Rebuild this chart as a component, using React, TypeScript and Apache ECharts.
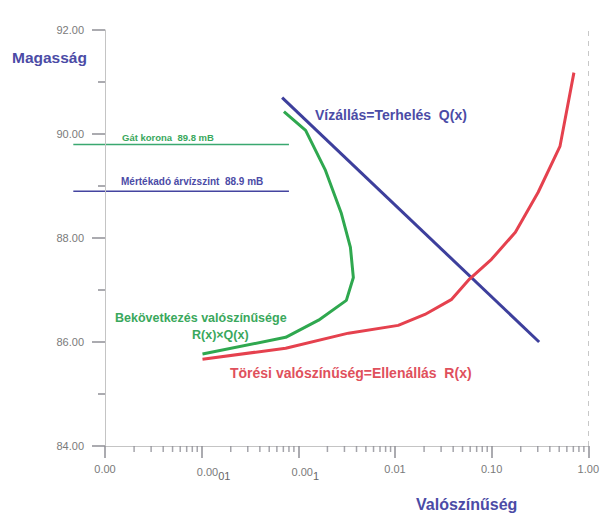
import React, { useEffect, useRef } from "react";
import * as echarts from "echarts";

// ---- data ----
const xMin = 0.00001;
const xMax = 1;
const yMin = 84;
const yMax = 92;
const yInterval = 2;
const xTickLabels = ["0.00", "{a|0.00}{s|01}", "{b|0.00}{s|1}", "0.01", "0.10", "1.00"];
const xDecades = [0.00001, 0.0001, 0.001, 0.01, 0.1];
const xMinorMultipliers = [2, 3, 4, 5, 6, 7, 8, 9];

// Load: water level Q(x)
const loadX = [0.00068, 0.31];
const loadY = [90.7, 86.0];

// Resistance: failure probability R(x)
const resistX = [0.000102, 0.00074, 0.0033, 0.0108, 0.0204, 0.0386, 0.059, 0.0996, 0.176, 0.303, 0.509, 0.71];
const resistY = [85.67, 85.88, 86.17, 86.32, 86.53, 86.82, 87.21, 87.59, 88.11, 88.88, 89.76, 91.18];

// Occurrence probability R(x)×Q(x)
const occX = [0.00071, 0.00119, 0.00191, 0.00279, 0.00346, 0.00371, 0.00314, 0.00162, 0.00074, 0.000102];
const occY = [90.43, 90.07, 89.3, 88.47, 87.82, 87.24, 86.8, 86.42, 86.09, 85.77];

// Reference levels (left end lies beyond the axis start)
const crestLevel = 89.8;
const designLevel = 88.9;
const refLineX = [0.0000047, 0.0008];

const BLUE = "#3d3f9c";
const GREEN = "#2fa84f";
const RED = "#e5414e";
const BLUE_TXT = "#4b4ba6";
const GREEN_TXT = "#3aa85c";
const RED_TXT = "#e0505c";
const FONT = "Liberation Sans, Arial, sans-serif";
const TICK = "#8f8f96";

const zip = (xs: number[], ys: number[]) => xs.map((x, i) => [x, ys[i]]);

export default function App() {
  const ref = useRef<HTMLDivElement>(null);
  useEffect(() => {
    document.body.style.margin = "0";
    const chart = echarts.init(ref.current!, undefined, { renderer: "svg" });
    const minorTicks: number[][] = [];
    xDecades.forEach((d) => xMinorMultipliers.forEach((m) => minorTicks.push([d * m, yMin])));

    const option: any = {
      animation: false,
      backgroundColor: "#ffffff",
      grid: { left: 105, right: 11, top: 30, bottom: 71 },
      xAxis: {
        type: "log",
        logBase: 10,
        min: xMin,
        max: xMax,
        axisLine: { show: true, lineStyle: { color: "#c4c4c4", width: 1 } },
        axisTick: { show: true, length: 12, lineStyle: { color: TICK, width: 1.5 } },
        minorTick: { show: false },
        splitLine: { show: false },
        axisLabel: {
          margin: 17,
          color: "#7a7a7a",
          fontSize: 11,
          fontFamily: FONT,
          formatter: (v: number) => {
            const i = Math.round(Math.log10(v) + 5);
            return xTickLabels[i] ?? "";
          },
          rich: {
            a: { fontSize: 11, color: "#7a7a7a", fontFamily: FONT, padding: [0, 0, 0, 24] },
            b: { fontSize: 11, color: "#7a7a7a", fontFamily: FONT, padding: [0, 0, 0, 14] },
            s: { fontSize: 11, color: "#666", fontFamily: FONT, padding: [7, 0, 0, 0] },
          },
        },
      },
      yAxis: {
        type: "value",
        min: yMin,
        max: yMax,
        interval: yInterval,
        axisLine: { show: true, lineStyle: { color: "#c4c4c4", width: 1 } },
        axisTick: { show: true, length: 13, lineStyle: { color: TICK, width: 1.5 } },
        minorTick: { show: true, splitNumber: 2, length: 7, lineStyle: { color: TICK, width: 1.5 } },
        splitLine: { show: false },
        axisLabel: {
          margin: 21,
          color: "#7a7a7a",
          fontSize: 11,
          fontFamily: FONT,
          formatter: (v: number) => v.toFixed(2),
        },
      },
      series: [
        {
          type: "scatter",
          name: "minorTicks",
          data: minorTicks,
          clip: false,
          silent: true,
          symbol: "rect",
          symbolSize: [1.5, 6],
          symbolOffset: [0, 3],
          itemStyle: { color: TICK },
          markLine: {
            silent: true,
            symbol: "none",
            label: { show: false },
            lineStyle: { color: "#c8c8c8", type: [5, 5], width: 1 },
            data: [{ xAxis: xMax }],
          },
        },
        {
          type: "line",
          name: "load",
          data: zip(loadX, loadY),
          symbol: "none",
          lineStyle: { color: BLUE, width: 3 },
        },
        {
          type: "line",
          name: "resist",
          data: zip(resistX, resistY),
          symbol: "none",
          lineStyle: { color: RED, width: 3 },
        },
        {
          type: "line",
          name: "occ",
          data: zip(occX, occY),
          symbol: "none",
          lineStyle: { color: GREEN, width: 3 },
        },
      ],
    };
    chart.setOption(option);

    // reference level lines, positioned through the chart's own scales
    const p0 = chart.convertToPixel({ gridIndex: 0 }, [xMin, crestLevel]) as number[];
    const p1 = chart.convertToPixel({ gridIndex: 0 }, [xMin * 10, crestLevel]) as number[];
    const decade = p1[0] - p0[0];
    const xPix = (v: number) => p0[0] + Math.log10(v / xMin) * decade;
    const yPix = (v: number) => (chart.convertToPixel({ gridIndex: 0 }, [xMin, v]) as number[])[1];
    const xa = xPix(refLineX[0]);
    const xb = xPix(refLineX[1]);

    chart.setOption({
      graphic: [
        { type: "line", shape: { x1: xa, y1: yPix(crestLevel), x2: xb, y2: yPix(crestLevel) }, style: { stroke: "#3aa870", lineWidth: 1.5 } },
        { type: "line", shape: { x1: xa, y1: yPix(designLevel), x2: xb, y2: yPix(designLevel) }, style: { stroke: "#4444a0", lineWidth: 1.5 } },
        { type: "text", left: 12, top: 49, style: { text: "Magasság", fill: BLUE_TXT, font: `bold 15.5px ${FONT}` } },
        { type: "text", left: 416, top: 496, style: { text: "Valószínűség", fill: BLUE_TXT, font: `bold 16px ${FONT}` } },
        { type: "text", left: 315, top: 108, style: { text: "Vízállás=Terhelés  Q(x)", fill: BLUE_TXT, font: `bold 14px ${FONT}` } },
        { type: "text", left: 115, top: 311, style: { text: "Bekövetkezés valószínűsége", fill: GREEN_TXT, font: `bold 12.5px ${FONT}` } },
        { type: "text", left: 192, top: 328, style: { text: "R(x)×Q(x)", fill: GREEN_TXT, font: `bold 12.5px ${FONT}` } },
        { type: "text", left: 230, top: 366, style: { text: "Törési valószínűség=Ellenállás  R(x)", fill: RED_TXT, font: `bold 14px ${FONT}` } },
        { type: "text", left: 122, top: 132, style: { text: "Gát korona  89.8 mB", fill: GREEN_TXT, font: `bold 9.5px ${FONT}` } },
        { type: "text", left: 121, top: 176, style: { text: "Mértékadó árvízszint  88.9 mB", fill: BLUE_TXT, font: `bold 10px ${FONT}` } },
      ],
    });
    return () => chart.dispose();
  }, []);
  return <div ref={ref} style={{ width: 602, height: 517 }} />;
}
